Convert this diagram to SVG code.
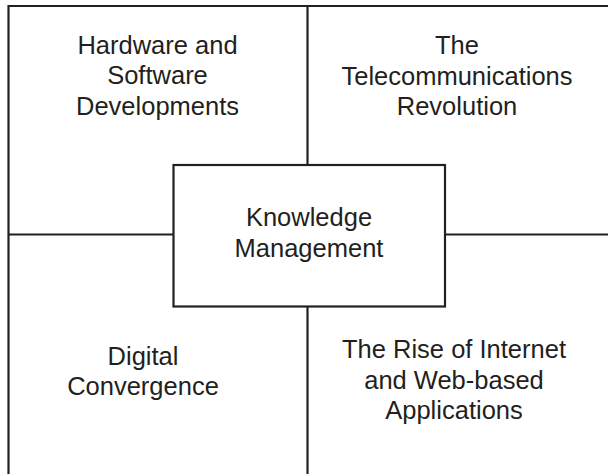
<svg xmlns="http://www.w3.org/2000/svg" width="608" height="474" viewBox="0 0 608 474">
<style>
.ln{stroke:#231f20;stroke-width:2.2;fill:none}
.bx{stroke:#231f20;stroke-width:2.2;fill:#fff}
text{font-family:"Liberation Sans",Arial,Helvetica,sans-serif;font-size:25.5px;fill:#231f20;text-anchor:middle}
</style>
<rect width="608" height="474" fill="#fff"/>
<g id="connectors">
<path class="ln" d="M8.5,474 V6 H608"/>
<path class="ln" d="M307.5,6 V474"/>
<path class="ln" d="M8.5,234.5 H608"/>
</g>
<g id="hardware">
<text x="157.5" y="53.5">Hardware and</text>
<text x="157.5" y="84">Software</text>
<text x="157.5" y="114.5">Developments</text>
</g>
<g id="telecom">
<text x="457" y="54">The</text>
<text x="457" y="85">Telecommunications</text>
<text x="457" y="115">Revolution</text>
</g>
<g id="knowledge">
<rect class="bx" x="173.5" y="165" width="271.5" height="141.5"/>
<text x="309" y="226">Knowledge</text>
<text x="309" y="257">Management</text>
</g>
<g id="digital">
<text x="143" y="364.5">Digital</text>
<text x="143" y="394.5">Convergence</text>
</g>
<g id="internet">
<text x="454" y="358">The Rise of Internet</text>
<text x="454" y="388.5">and Web-based</text>
<text x="454" y="418.5">Applications</text>
</g>
</svg>
